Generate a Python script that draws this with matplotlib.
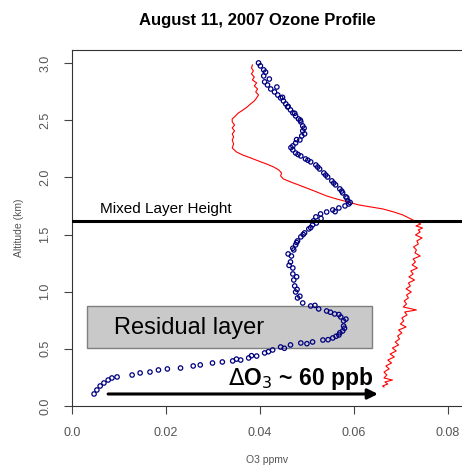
import numpy as np
import matplotlib.pyplot as plt
from matplotlib.patches import Rectangle

plt.rcParams['font.family'] = ['Liberation Sans', 'DejaVu Sans']

# ozonesonde points (ppmv, km)
sonde_o3 = [0.0397, 0.0401, 0.0408, 0.0408, 0.0410, 0.0416, 0.0423, 0.0431, 0.0438, 0.0444,
            0.0450, 0.0455, 0.0459, 0.0465, 0.0470, 0.0476, 0.0482, 0.0487, 0.0491, 0.0491,
            0.0489, 0.0485, 0.0476, 0.0470, 0.0470, 0.0476, 0.0487, 0.0497, 0.0508, 0.0519,
            0.0527, 0.0536, 0.0544, 0.0553, 0.0561, 0.0570, 0.0576, 0.0583, 0.0587, 0.0589,
            0.0581, 0.0568, 0.0555, 0.0542, 0.0529, 0.0519, 0.0514, 0.0512, 0.0504, 0.0495,
            0.0487, 0.0480, 0.0476, 0.0472, 0.0467, 0.0465, 0.0470, 0.0470, 0.0472, 0.0474,
            0.0476, 0.0480, 0.0491, 0.0508, 0.0525, 0.0542, 0.0559, 0.0572, 0.0578, 0.0578,
            0.0576, 0.0568, 0.0555, 0.0534, 0.0512, 0.0487, 0.0465, 0.0444, 0.0427, 0.0410,
            0.0393, 0.0376, 0.0359, 0.0342, 0.0320, 0.0299, 0.0273, 0.0258, 0.0231, 0.0203,
            0.0184, 0.0166, 0.0145, 0.0128, 0.0096, 0.0085, 0.0077, 0.0068, 0.0060, 0.0053,
            0.0047,
            # second pass of readings where the column is two circles wide
            0.0412, 0.0420, 0.0436, 0.0448, 0.0460, 0.0474, 0.0486, 0.0494, 0.0495, 0.0478,
            0.0466, 0.0481, 0.0502, 0.0523, 0.0540, 0.0557, 0.0574, 0.0585, 0.0592, 0.0560,
            0.0530, 0.0520, 0.0508, 0.0492, 0.0478, 0.0470, 0.0460, 0.0462, 0.0478, 0.0479,
            0.0485, 0.0517, 0.0550, 0.0568, 0.0583, 0.0580, 0.0570, 0.0562, 0.0545, 0.0500,
            0.0452, 0.0418, 0.0382, 0.0350]
sonde_alt = [3.001, 2.975, 2.940, 2.887, 2.835, 2.808, 2.773, 2.747, 2.720, 2.695,
             2.668, 2.642, 2.616, 2.590, 2.564, 2.537, 2.511, 2.485, 2.450, 2.406,
             2.362, 2.327, 2.301, 2.275, 2.240, 2.213, 2.187, 2.161, 2.135, 2.108,
             2.073, 2.038, 2.003, 1.969, 1.934, 1.899, 1.864, 1.829, 1.794, 1.767,
             1.750, 1.732, 1.715, 1.697, 1.680, 1.654, 1.619, 1.584, 1.549, 1.514,
             1.479, 1.444, 1.409, 1.365, 1.312, 1.260, 1.207, 1.155, 1.102, 1.050,
             0.997, 0.945, 0.901, 0.875, 0.849, 0.831, 0.805, 0.779, 0.744, 0.700,
             0.656, 0.621, 0.595, 0.577, 0.560, 0.551, 0.534, 0.516, 0.490, 0.464,
             0.437, 0.420, 0.402, 0.394, 0.385, 0.376, 0.359, 0.350, 0.332, 0.324,
             0.315, 0.297, 0.289, 0.271, 0.254, 0.245, 0.227, 0.201, 0.175, 0.140,
             0.105,
             2.920, 2.860, 2.790, 2.700, 2.620, 2.560, 2.500, 2.430, 2.380, 2.330,
             2.260, 2.200, 2.150, 2.090, 2.020, 1.950, 1.880, 1.820, 1.780, 1.700,
             1.640, 1.600, 1.560, 1.500, 1.430, 1.380, 1.330, 1.230, 1.130, 1.020,
             0.960, 0.880, 0.820, 0.800, 0.760, 0.680, 0.640, 0.610, 0.580, 0.545,
             0.505, 0.475, 0.440, 0.410]

# second profile (red line)
red_o3 = [0.0384, 0.0382, 0.0386, 0.0382, 0.0388, 0.0384, 0.0393, 0.0388, 0.0395, 0.0391,
          0.0397, 0.0393, 0.0388, 0.0380, 0.0373, 0.0367, 0.0361, 0.0354, 0.0348, 0.0341,
          0.0341, 0.0346, 0.0341, 0.0346, 0.0341, 0.0344, 0.0341, 0.0344, 0.0341, 0.0350,
          0.0363, 0.0380, 0.0397, 0.0414, 0.0429, 0.0440, 0.0446, 0.0444, 0.0450, 0.0465,
          0.0482, 0.0499, 0.0521, 0.0542, 0.0563, 0.0587, 0.0610, 0.0636, 0.0661, 0.0685,
          0.0704, 0.0721, 0.0734, 0.0742, 0.0732, 0.0746, 0.0737, 0.0741, 0.0731, 0.0745,
          0.0734, 0.0737, 0.0727, 0.0733, 0.0730, 0.0741, 0.0726, 0.0731, 0.0724, 0.0735,
          0.0721, 0.0726, 0.0717, 0.0729, 0.0716, 0.0720, 0.0711, 0.0722, 0.0712, 0.0716,
          0.0707, 0.0712, 0.0705, 0.0733, 0.0708, 0.0713, 0.0702, 0.0706, 0.0699, 0.0711,
          0.0695, 0.0702, 0.0693, 0.0697, 0.0688, 0.0695, 0.0682, 0.0690, 0.0677, 0.0686,
          0.0672, 0.0680, 0.0668, 0.0675, 0.0664, 0.0670, 0.0664, 0.0682, 0.0666, 0.0672,
          0.0661, 0.0664]
red_alt = [2.983, 2.957, 2.931, 2.905, 2.878, 2.852, 2.826, 2.800, 2.773, 2.747,
           2.721, 2.695, 2.668, 2.642, 2.616, 2.598, 2.581, 2.563, 2.537, 2.511,
           2.485, 2.458, 2.432, 2.406, 2.380, 2.353, 2.327, 2.292, 2.257, 2.222,
           2.196, 2.170, 2.143, 2.117, 2.091, 2.065, 2.038, 2.012, 1.986, 1.960,
           1.934, 1.907, 1.872, 1.837, 1.811, 1.785, 1.759, 1.741, 1.724, 1.697,
           1.671, 1.636, 1.610, 1.592, 1.575, 1.557, 1.540, 1.522, 1.496, 1.470,
           1.444, 1.417, 1.391, 1.365, 1.339, 1.312, 1.286, 1.260, 1.234, 1.207,
           1.181, 1.155, 1.129, 1.102, 1.076, 1.050, 1.024, 0.997, 0.971, 0.945,
           0.919, 0.892, 0.866, 0.840, 0.822, 0.796, 0.770, 0.744, 0.717, 0.691,
           0.665, 0.639, 0.612, 0.586, 0.560, 0.534, 0.507, 0.481, 0.455, 0.429,
           0.402, 0.376, 0.350, 0.324, 0.297, 0.271, 0.245, 0.227, 0.210, 0.192,
           0.175, 0.166]

mixed_layer_height = 1.62
residual_o3 = (0.0032, 0.0638)
residual_alt = (0.507, 0.875)
arrow_o3 = (0.0071, 0.0657)
arrow_alt = 0.105

fig = plt.figure(figsize=(4.62, 4.68), dpi=100)
ax = fig.add_axes([0.1558, 0.1325, 0.8442, 0.7607])

ax.add_patch(Rectangle((residual_o3[0], residual_alt[0]),
                       residual_o3[1] - residual_o3[0], residual_alt[1] - residual_alt[0],
                       facecolor="#c9c9c9", edgecolor="#7f7f7f", lw=1, zorder=1))
ax.text(0.0250, 0.68, "Residual layer", fontsize=17, ha="center", va="center", zorder=2)

ax.plot(red_o3, red_alt, color="red", lw=0.8, zorder=3)
ax.scatter(sonde_o3, sonde_alt, s=10, facecolors="none", edgecolors="#000080",
           linewidths=0.9, zorder=4)

ax.axhline(mixed_layer_height, color="black", lw=2.2, zorder=5)
ax.text(0.006, 1.72, "Mixed Layer Height", fontsize=11, va="center", ha="left")

ax.annotate("", xy=(arrow_o3[1], arrow_alt), xytext=(arrow_o3[0], arrow_alt),
            arrowprops=dict(arrowstyle="-|>,head_length=0.6,head_width=0.3",
                            color="black", lw=2.2), zorder=6)
ax.text(0.0486, 0.24, r"$\Delta$O$_3$ ~ 60 ppb", fontsize=16.5, fontweight="bold",
        ha="center", va="center")

ax.set_xlim(0, 0.0830)
ax.set_ylim(0, 3.114)
ax.set_xticks([0.0, 0.02, 0.04, 0.06, 0.08])
ax.set_xticklabels(["0.0", "0.02", "0.04", "0.06", "0.08"])
ax.set_yticks([0.0, 0.5, 1.0, 1.5, 2.0, 2.5, 3.0])
ax.set_yticklabels(["0.0", "0.5", "1.0", "1.5", "2.0", "2.5", "3.0"], rotation=90, va="center")
ax.tick_params(direction="out", length=6, width=0.8, color="#444444",
               labelcolor="#555555", labelsize=9, pad=9)
ax.spines["right"].set_visible(False)
for s in ["left", "top", "bottom"]:
    ax.spines[s].set_color("#333333")
    ax.spines[s].set_linewidth(0.8)

ax.set_xlabel("O3 ppmv", fontsize=7.5, color="#555555", labelpad=12)
ax.set_ylabel("Altitude (km)", fontsize=7.5, color="#555555", labelpad=11)
fig.text(0.558, 0.957, "August 11, 2007 Ozone Profile", fontsize=12, fontweight="bold",
         ha="center", va="center")

fig.savefig("out.png", dpi=100)
